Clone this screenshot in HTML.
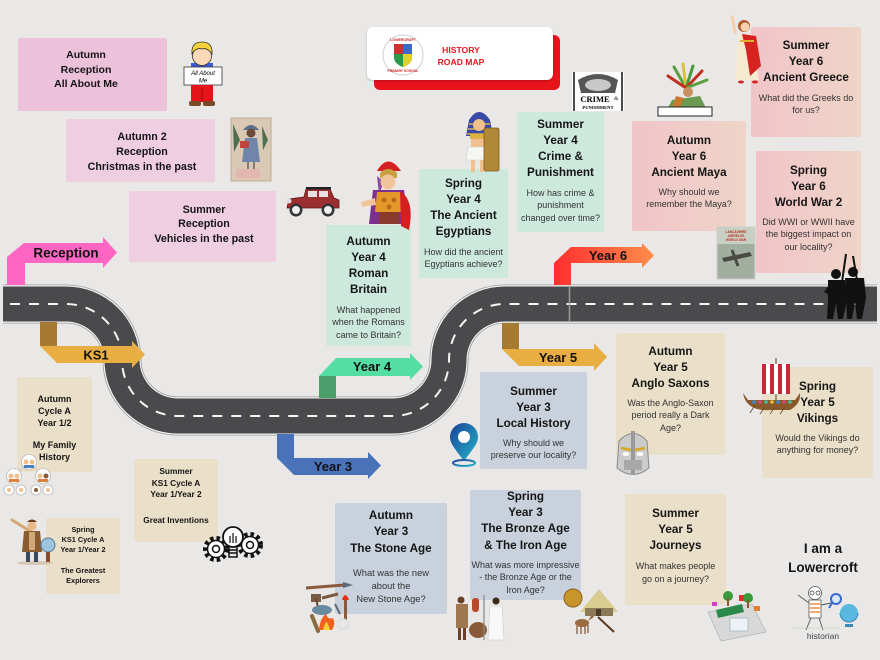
<!DOCTYPE html>
<html><head><meta charset="utf-8">
<style>
html,body{margin:0;padding:0}
body{width:880px;height:660px;position:relative;overflow:hidden;background:#e9e8e6;font-family:"Liberation Sans",Arial,sans-serif;color:#151515}
.box{position:absolute;text-align:center;box-sizing:border-box;white-space:nowrap;border-radius:2px}
.t{font-weight:bold;font-size:11.7px;line-height:16px}
.q{font-size:9px;line-height:12.5px;color:#333}
.r{font-weight:bold;font-size:10.7px}
.k{font-weight:bold}
.g{background:#cde8dc}
.p6{background:linear-gradient(90deg,#f0c5c9,#efd4c7)}
.bg{background:#c9d1dd}
.be{background:#eadfc8}
svg{position:absolute;left:0;top:0}
</style></head><body>

<!-- road + arrows -->
<svg width="880" height="660" viewBox="0 0 880 660">
<defs>
<linearGradient id="y6" x1="554" y1="0" x2="654" y2="0" gradientUnits="userSpaceOnUse"><stop offset="0" stop-color="#ff2e2e"/><stop offset="1" stop-color="#ff8e4c"/></linearGradient>
</defs>
<g fill="none" stroke-linecap="butt">
<path d="M3 304 H66 A56 56 0 0 1 122 360 A56 56 0 0 0 178 416 H393 A56 56 0 0 0 449 360 A56 56 0 0 1 505 304 H877" stroke="#9a9a9a" stroke-width="39"/>
<path d="M3 304 H66 A56 56 0 0 1 122 360 A56 56 0 0 0 178 416 H393 A56 56 0 0 0 449 360 A56 56 0 0 1 505 304 H877" stroke="#f3f3f3" stroke-width="37.4"/>
<path d="M3 304 H66 A56 56 0 0 1 122 360 A56 56 0 0 0 178 416 H393 A56 56 0 0 0 449 360 A56 56 0 0 1 505 304 H877" stroke="#4a4a4c" stroke-width="35"/>
<path d="M10 304 H66 A56 56 0 0 1 122 360 A56 56 0 0 0 178 416 H393 A56 56 0 0 0 449 360 A56 56 0 0 1 505 304 H870" stroke="#f5f5f5" stroke-width="2" stroke-dasharray="10 9"/>
</g>
<line x1="569.5" y1="286" x2="569.5" y2="322" stroke="#9a9a9a" stroke-width="1.5"/>

<!-- Reception -->
<polygon points="7,285 7,257 24,243 103,243 103,237 117,252.5 103,268 103,263 25,263 25,285" fill="#ff66c4"/>
<text x="66" y="257.5" font-size="13.5" font-weight="bold" text-anchor="middle" fill="#111">Reception</text>
<!-- KS1 -->
<rect x="40" y="322" width="17" height="24" fill="#a67a30"/>
<polygon points="40,346 132,346 132,341 145,354.5 132,368 132,363 57,363" fill="#e9ae42"/>
<text x="96" y="359.5" font-size="13" font-weight="bold" text-anchor="middle" fill="#111">KS1</text>
<!-- Year 4 -->
<rect x="319" y="376" width="17" height="22" fill="#4c9e6b"/>
<polygon points="319,376 336,358 410,358 410,353 423,366.5 410,380 410,376" fill="#54dea4"/>
<text x="372" y="371" font-size="13" font-weight="bold" text-anchor="middle" fill="#111">Year 4</text>
<!-- Year 3 -->
<rect x="277" y="434" width="17" height="24" fill="#4a72b8"/>
<polygon points="277,458 368,458 368,452 381,465.5 368,479 368,475 294,475" fill="#4a72b8"/>
<text x="333" y="471" font-size="13" font-weight="bold" text-anchor="middle" fill="#111">Year 3</text>
<!-- Year 5 -->
<rect x="502" y="323" width="17" height="26" fill="#a67a30"/>
<polygon points="502,349 594,349 594,343 607,357 594,371 594,366 519,366" fill="#e9ae42"/>
<text x="558" y="362" font-size="13" font-weight="bold" text-anchor="middle" fill="#111">Year 5</text>
<!-- Year 6 -->
<polygon points="554,285 554,263 571,247 642,247 642,243 654,255.5 642,268 642,263 571,263 571,285" fill="url(#y6)"/>
<text x="608" y="260" font-size="13" font-weight="bold" text-anchor="middle" fill="#111">Year 6</text>
</svg>

<!-- header -->
<div style="position:absolute;left:374px;top:35px;width:186px;height:55px;background:#e8141c;border-radius:6px"></div>
<div style="position:absolute;left:367px;top:27px;width:186px;height:53px;background:#fff;border-radius:6px;box-shadow:0 1px 2px rgba(0,0,0,.2)"></div>
<div style="position:absolute;left:420px;top:44px;width:82px;text-align:center;color:#e8141c;font-weight:bold;font-size:8.6px;line-height:12px">HISTORY<br>ROAD MAP</div>

<!-- Reception boxes -->
<div class="box r" style="left:18px;top:38px;width:149px;height:73px;background:#ecc1da;padding:10px 13px 0 0;line-height:14.5px;font-size:10.5px">Autumn<br>Reception<br>All About Me</div>
<div class="box r" style="left:66px;top:119px;width:149px;height:63px;background:#efcee2;padding-top:10.5px;padding-left:3px;line-height:15px">Autumn 2<br>Reception<br>Christmas in the past</div>
<div class="box r" style="left:129px;top:191px;width:147px;height:71px;background:#efcee2;padding-top:11.75px;padding-left:3px;line-height:14.5px">Summer<br>Reception<br>Vehicles in the past</div>

<!-- Year 4 -->
<div class="box g" style="left:326px;top:225px;width:85px;height:121px;padding-top:9px"><div class="t">Autumn<br>Year 4<br>Roman<br>Britain</div><div class="q" style="margin-top:5.75px">What happened<br>when the Romans<br>came to Britain?</div></div>
<div class="box g" style="left:419px;top:169px;width:89px;height:109px;padding-top:7px"><div class="t">Spring<br>Year 4<br>The Ancient<br>Egyptians</div><div class="q" style="margin-top:5.75px">How did the ancient<br>Egyptians achieve?</div></div>
<div class="box g" style="left:517px;top:112px;width:87px;height:120px;padding-top:5px"><div class="t">Summer<br>Year 4<br>Crime &amp;<br>Punishment</div><div class="q" style="margin-top:5.75px">How has crime &amp;<br>punishment<br>changed over time?</div></div>

<!-- Year 6 -->
<div class="box p6" style="left:632px;top:121px;width:114px;height:110px;padding-top:12px"><div class="t">Autumn<br>Year 6<br>Ancient Maya</div><div class="q" style="margin-top:4.75px">Why should we<br>remember the Maya?</div></div>
<div class="box p6" style="left:751px;top:27px;width:110px;height:110px;padding-top:11px"><div class="t">Summer<br>Year 6<br>Ancient Greece</div><div class="q" style="margin-top:5.75px">What did the Greeks do<br>for us?</div></div>
<div class="box p6" style="left:756px;top:151px;width:105px;height:122px;padding-top:12px"><div class="t">Spring<br>Year 6<br>World War 2</div><div class="q" style="margin-top:4.75px">Did WWI or WWII have<br>the biggest impact on<br>our locality?</div></div>

<!-- Year 5 / Year 3 -->
<div class="box bg" style="left:480px;top:372px;width:107px;height:97px;padding-top:12px"><div class="t">Summer<br>Year 3<br>Local History</div><div class="q" style="margin-top:4.75px">Why should we<br>preserve our locality?</div></div>
<div class="box be" style="left:616px;top:333px;width:109px;height:122px;padding-top:11px"><div class="t">Autumn<br>Year 5<br>Anglo Saxons</div><div class="q" style="margin-top:4.75px">Was the Anglo-Saxon<br>period really a Dark<br>Age?</div></div>
<div class="box be" style="left:762px;top:367px;width:111px;height:111px;padding-top:12px"><div class="t">Spring<br>Year 5<br>Vikings</div><div class="q" style="margin-top:4.75px">Would the Vikings do<br>anything for money?</div></div>
<div class="box bg" style="left:335px;top:503px;width:112px;height:111px;padding-top:4.75px"><div class="t" style="line-height:16.5px">Autumn<br>Year 3<br>The Stone Age</div><div class="q" style="margin-top:9.25px;line-height:13px;font-size:9.3px">What was the new<br>about the<br>New Stone Age?</div></div>
<div class="box bg" style="left:470px;top:490px;width:111px;height:110px;padding-top:0"><div class="t" style="margin-top:-1.15px;line-height:16.3px">Spring<br>Year 3<br>The Bronze Age<br>&amp; The Iron Age</div><div class="q" style="margin-top:4.7px">What was more impressive<br>- the Bronze Age or the<br>Iron Age?</div></div>
<div class="box be" style="left:625px;top:494px;width:101px;height:111px;padding-top:12px"><div class="t">Summer<br>Year 5<br>Journeys</div><div class="q" style="margin-top:5.5px;line-height:13px">What makes people<br>go on a journey?</div></div>

<!-- KS1 -->
<div class="box be k" style="left:17px;top:377px;width:75px;height:95px;padding-top:16px;font-size:9px;line-height:12px">Autumn<br>Cycle A<br>Year 1/2<div style="margin-top:10px">My Family<br>History</div></div>
<div class="box be k" style="left:134px;top:459px;width:84px;height:83px;padding-top:7.25px;font-size:8.3px;line-height:11.5px">Summer<br>KS1 Cycle A<br>Year 1/Year 2<div style="margin-top:14.5px">Great Inventions</div></div>
<div class="box be k" style="left:46px;top:518px;width:74px;height:76px;padding-top:7px;font-size:7.3px;line-height:10px">Spring<br>KS1 Cycle A<br>Year 1/Year 2<div style="margin-top:11px">The Greatest<br>Explorers</div></div>

<div style="position:absolute;left:763px;top:539px;width:120px;text-align:center;font-weight:bold;font-size:13.5px;line-height:19px">I am a<br>Lowercroft</div>
<div style="position:absolute;left:783px;top:631px;width:80px;text-align:center;font-size:8.5px;color:#444">historian</div>

<!-- pictures -->
<svg width="880" height="660" viewBox="0 0 880 660" font-family="Liberation Sans, sans-serif">
<defs>
<linearGradient id="pg" x1="0" y1="0" x2="1" y2="1"><stop offset="0" stop-color="#1c3f9a"/><stop offset="1" stop-color="#22b8c8"/></linearGradient>
</defs>
<!-- logo -->
<circle cx="403" cy="55" r="20" fill="#fff" stroke="#d8d8d8" stroke-width="1.2"/>
<text x="403" y="41" font-size="3.6" fill="#c82020" text-anchor="middle" font-weight="bold">LOWERCROFT</text>
<text x="403" y="72" font-size="3.4" fill="#c82020" text-anchor="middle" font-weight="bold">PRIMARY SCHOOL</text>
<path d="M394 44 H412 V57 Q412 64 403 67 Q394 64 394 57Z" fill="#2a9a4a"/>
<rect x="394" y="44" width="9" height="10" fill="#d03030"/>
<rect x="403" y="44" width="9" height="10" fill="#3a6ac8"/>
<path d="M403 54 H412 V57 Q412 64 403 67Z" fill="#e8d020"/>
<!-- boy -->
<rect x="191" y="63" width="22" height="10" fill="#3d5bd8"/>
<circle cx="202" cy="56" r="9.5" fill="#fcd9b6" stroke="#333" stroke-width="0.8"/>
<path d="M192 54 Q191 42 202 42 Q213 42 212 54 Q207 47 202 49 Q196 47 192 54Z" fill="#f6d23c" stroke="#333" stroke-width="0.8"/>
<rect x="184" y="67" width="38" height="18" fill="#fff" stroke="#333" stroke-width="0.8"/>
<text x="203" y="75" font-size="6" text-anchor="middle" font-style="italic">All About</text>
<text x="203" y="82.5" font-size="6" text-anchor="middle" font-style="italic">Me</text>
<rect x="191" y="85" width="22" height="17" fill="#e5141b"/>
<line x1="202" y1="89" x2="202" y2="102" stroke="#900" stroke-width="0.8"/>
<rect x="189" y="101" width="12" height="5" rx="2" fill="#7a4a28"/>
<rect x="203" y="101" width="12" height="5" rx="2" fill="#7a4a28"/>
<!-- christmas card -->
<rect x="231" y="118" width="40" height="63" fill="#d8c8b4" stroke="#c0ad95"/>
<path d="M233 124 L240 140 L234 152Z" fill="#4a7050"/>
<path d="M262 126 L268 140 L263 150Z" fill="#4a7050"/>
<path d="M243 130 Q251 120 259 130 Z" fill="#5a6e90"/>
<circle cx="251" cy="133" r="4.5" fill="#6b4a38"/>
<path d="M245 138 L257 138 L260 162 L242 162Z" fill="#6f86aa"/>
<rect x="240" y="141" width="9" height="7" fill="#c0453a"/>
<line x1="248" y1="162" x2="248" y2="169" stroke="#333"/>
<line x1="254" y1="162" x2="254" y2="169" stroke="#333"/>
<rect x="236" y="169" width="24" height="9" fill="#e2b7b0"/>
<!-- car -->
<path d="M287 208 L289 199 L304 197 L306 189 L330 189 L334 198 L339 200 L339 208Z" fill="#9b2f30" stroke="#5a1a1a" stroke-width="0.8"/>
<rect x="308" y="191" width="9" height="6" fill="#e8e0e0"/>
<rect x="319" y="191" width="9" height="6" fill="#e8e0e0"/>
<rect x="306" y="187" width="25" height="2.5" fill="#222"/>
<circle cx="296" cy="210" r="6.5" fill="#333"/><circle cx="296" cy="210" r="4" fill="#eee"/>
<circle cx="328" cy="210" r="6.5" fill="#333"/><circle cx="328" cy="210" r="4" fill="#eee"/>
<circle cx="289" cy="201" r="2.5" fill="#ddd"/>
<!-- roman -->
<path d="M377 171 Q388 152 401 171 Z" fill="#d42020"/>
<path d="M380 173 Q388 165 397 173 L397 178 L380 178Z" fill="#c8a040"/>
<path d="M377 176 L379 194 L384 182Z" fill="#8a4aa0"/>
<circle cx="388" cy="182" r="7.5" fill="#f2c49c"/>
<path d="M373 190 L404 190 L409 224 L369 224Z" fill="#7d2f8f"/>
<path d="M377 192 L401 192 L403 212 L375 212Z" fill="#e4982a"/>
<circle cx="384" cy="200" r="2.5" fill="#b86a18"/><circle cx="394" cy="200" r="2.5" fill="#b86a18"/><circle cx="389" cy="207" r="2.5" fill="#b86a18"/>
<path d="M400 191 Q415 200 409 230 L401 226Z" fill="#d42020"/>
<path d="M375 198 L361 202 L362 207 L376 205Z" fill="#f2c49c"/>
<rect x="379" y="212" width="20" height="12" fill="#8a3a2a"/>
<!-- pharaoh -->
<path d="M469 120 Q479 104 490 120 L493 136 L466 136Z" fill="#3a4aa8"/>
<path d="M469 124 H490 M468 129 H491 M467 134 H492" stroke="#e0b040" stroke-width="1.5"/>
<circle cx="479" cy="125" r="6" fill="#f2c08a"/>
<rect x="470" y="134" width="18" height="5" fill="#e0b040"/>
<rect x="471" y="139" width="16" height="9" fill="#f0c090"/>
<path d="M468 147 L490 147 L492 160 L466 160Z" fill="#f6f6f2" stroke="#ccc" stroke-width="0.6"/>
<rect x="471" y="160" width="4" height="12" fill="#f0c090"/>
<rect x="480" y="160" width="4" height="12" fill="#f0c090"/>
<rect x="484" y="128" width="15" height="43" rx="2" fill="#b08838" stroke="#7a5a20" stroke-width="0.8"/>
<!-- crime sign -->
<rect x="572" y="72" width="52" height="39" fill="#fff"/>
<path d="M574 72 V111 M622 72 V111" stroke="#111" stroke-width="1.5"/>
<path d="M578 80 Q598 68 618 80 L615 93 L581 93Z" fill="#555"/>
<ellipse cx="598" cy="85" rx="13" ry="6" fill="#c8c8c8"/>
<text x="595" y="102" font-size="8.5" font-weight="bold" font-family="Liberation Serif, serif" text-anchor="middle">CRIME</text>
<text x="614" y="100" font-size="5.5" font-family="Liberation Serif, serif">&amp;</text>
<text x="598" y="109" font-size="4.6" font-weight="bold" font-family="Liberation Serif, serif" text-anchor="middle">PUNISHMENT</text>
<!-- maya -->
<g stroke-width="3" stroke-linecap="round">
<line x1="686" y1="88" x2="674" y2="67" stroke="#5aa040"/>
<line x1="686" y1="88" x2="683" y2="64" stroke="#d8c040"/>
<line x1="686" y1="88" x2="693" y2="66" stroke="#4a9a40"/>
<line x1="686" y1="88" x2="702" y2="71" stroke="#c03020"/>
<line x1="686" y1="88" x2="707" y2="80" stroke="#5aa040"/>
<line x1="686" y1="88" x2="668" y2="76" stroke="#c03020"/>
</g>
<circle cx="688" cy="92" r="5" fill="#c89060"/>
<path d="M672 100 L700 96 L706 108 L668 108Z" fill="#6a9a50"/>
<path d="M676 96 L684 98 L680 108 L672 108Z" fill="#c87a30"/>
<rect x="658" y="107" width="54" height="9" fill="#fff" stroke="#222"/>
<!-- greek lady -->
<line x1="735" y1="32" x2="732" y2="17" stroke="#f4d0b0" stroke-width="3" stroke-linecap="round"/>
<circle cx="744" cy="26" r="6" fill="#b05a2a"/>
<circle cx="745" cy="27" r="4.5" fill="#f6d2b0"/>
<path d="M738 34 L752 34 L759 80 L736 80Z" fill="#f5ead0"/>
<path d="M742 34 L756 36 L761 66 L750 76 L746 50Z" fill="#d6231f"/>
<rect x="740" y="40" width="14" height="2" fill="#e0b030"/>
<ellipse cx="741" cy="82" rx="3" ry="1.5" fill="#d6231f"/><ellipse cx="755" cy="82" rx="3" ry="1.5" fill="#d6231f"/>
<!-- ww2 book -->
<rect x="717" y="227" width="38" height="52" fill="#a2ae9f" stroke="#d0d0d0"/>
<rect x="717" y="227" width="38" height="17" fill="#c8d0c4"/>
<text x="736" y="233" font-size="3.2" fill="#c03020" text-anchor="middle" font-weight="bold">LANCASHIRE</text>
<text x="736" y="237" font-size="3.2" fill="#c03020" text-anchor="middle" font-weight="bold">AIRFIELDS</text>
<text x="736" y="241" font-size="3.2" fill="#c03020" text-anchor="middle" font-weight="bold">WORLD WAR</text>
<path d="M722 258 L750 252 L752 256 L724 262Z" fill="#4a4a44"/>
<path d="M732 250 L738 266" stroke="#4a4a44" stroke-width="3"/>
<!-- soldiers -->
<g fill="#111">
<circle cx="836" cy="274" r="5"/>
<path d="M828 280 L845 280 L847 300 L843 319 L838 319 L836 304 L833 319 L827 319 L828 300Z"/>
<circle cx="853" cy="272" r="5"/>
<path d="M845 278 L864 278 L866 298 L862 319 L857 319 L855 302 L852 319 L847 319 L846 298Z"/>
<path d="M824 292 L830 284 L831 296Z"/>
</g>
<line x1="842" y1="282" x2="846" y2="254" stroke="#111" stroke-width="2"/>
<line x1="857" y1="280" x2="853" y2="256" stroke="#111" stroke-width="2"/>
<!-- pin -->
<path d="M464 461 C456 450 450 444 450 437 A14 14 0 0 1 478 437 C478 444 472 450 464 461Z" fill="url(#pg)"/>
<circle cx="464" cy="437" r="6" fill="#fff"/>
<ellipse cx="464" cy="463" rx="11" ry="3" fill="none" stroke="url(#pg)" stroke-width="2"/>
<!-- helmet -->
<path d="M619 441 Q633 426 647 441 L649 468 Q633 481 617 468Z" fill="#cbcbcb" stroke="#8a8a8a"/>
<rect x="631" y="431" width="4" height="44" fill="#9a9a9a"/>
<path d="M621 448 L631 450 M635 450 L645 448" stroke="#d8a820" stroke-width="2.5"/>
<ellipse cx="626" cy="454" rx="3.5" ry="2" fill="#fff"/>
<ellipse cx="640" cy="454" rx="3.5" ry="2" fill="#fff"/>
<rect x="624" y="460" width="18" height="10" fill="#a8a8a8"/>
<!-- viking ship -->
<line x1="776" y1="358" x2="776" y2="404" stroke="#7a5a3a" stroke-width="1.2"/>
<rect x="762" y="364" width="28" height="30" fill="#fff"/>
<g fill="#c8283a"><rect x="762" y="364" width="4" height="30"/><rect x="770" y="364" width="4" height="30"/><rect x="778" y="364" width="4" height="30"/><rect x="786" y="364" width="4" height="30"/></g>
<path d="M743 393 Q746 412 772 410 L790 410 Q801 404 800 393 L795 400 L748 400Z" fill="#8a5a2c"/>
<g stroke="#6a4420" stroke-width="0.8"><line x1="755" y1="405" x2="750" y2="413"/><line x1="765" y1="407" x2="760" y2="414"/><line x1="775" y1="407" x2="770" y2="414"/><line x1="785" y1="407" x2="780" y2="414"/></g>
<g><circle cx="754" cy="402" r="1.8" fill="#3a8ad0"/><circle cx="760" cy="402" r="1.8" fill="#e04080"/><circle cx="766" cy="402" r="1.8" fill="#40c0a0"/><circle cx="772" cy="402" r="1.8" fill="#e0c030"/><circle cx="778" cy="402" r="1.8" fill="#3a8ad0"/><circle cx="784" cy="402" r="1.8" fill="#e04080"/><circle cx="790" cy="402" r="1.8" fill="#40c0a0"/></g>
<!-- family tree -->
<g stroke="#bbb" stroke-width="0.8" fill="#fff">
<line x1="29" y1="462" x2="14" y2="476"/><line x1="29" y1="462" x2="43" y2="476"/>
<circle cx="29" cy="462" r="7.5"/><circle cx="14" cy="476" r="7.5"/><circle cx="43" cy="476" r="7.5"/>
<circle cx="9" cy="490" r="5"/><circle cx="21" cy="490" r="5"/><circle cx="36" cy="490" r="5"/><circle cx="48" cy="490" r="5"/>
</g>
<g fill="#f0c090"><circle cx="26" cy="462" r="2.5"/><circle cx="32" cy="462" r="2.5"/><circle cx="11" cy="476" r="2.5"/><circle cx="17" cy="476" r="2.5"/><circle cx="40" cy="476" r="2.5"/><circle cx="46" cy="476" r="2.5" fill="#8a5a3a"/><circle cx="9" cy="490" r="2"/><circle cx="21" cy="490" r="2"/><circle cx="36" cy="490" r="2" fill="#8a5a3a"/><circle cx="48" cy="490" r="2"/></g>
<g fill="#e08040"><rect x="9" y="479" width="10" height="3"/><rect x="38" y="479" width="10" height="3"/><rect x="24" y="465" width="10" height="3" fill="#4a80c0"/></g>
<!-- explorer -->
<ellipse cx="35" cy="563" rx="18" ry="2" fill="#d6c6b4"/>
<line x1="30" y1="531" x2="12" y2="520" stroke="#d4a870" stroke-width="3" stroke-linecap="round"/>
<circle cx="32" cy="526" r="4.5" fill="#e8b888"/>
<path d="M27 522 Q32 517 37 522Z" fill="#6a4020"/>
<path d="M24 531 L40 531 L42 552 L22 552Z" fill="#8a5a30"/>
<rect x="29" y="532" width="6" height="18" fill="#d0a878"/>
<rect x="26" y="552" width="4" height="10" fill="#3a4a5a"/><rect x="34" y="552" width="4" height="10" fill="#3a4a5a"/>
<circle cx="48" cy="545" r="7" fill="#9cc4e0" stroke="#5a7a9a"/>
<rect x="46" y="552" width="4" height="10" fill="#8a4a2a"/>
<!-- gears and bulb -->
<g fill="none" stroke="#111">
<circle cx="216" cy="549" r="11" stroke-width="4" stroke-dasharray="3.5 3"/>
<circle cx="216" cy="549" r="8.5" stroke-width="1.5" fill="#fff"/>
<circle cx="216" cy="549" r="3.5" stroke-width="1.5"/>
<circle cx="250" cy="545" r="11" stroke-width="4" stroke-dasharray="3.5 3"/>
<circle cx="250" cy="545" r="8.5" stroke-width="1.5" fill="#fff"/>
<circle cx="250" cy="545" r="3.5" stroke-width="1.5"/>
<circle cx="233" cy="537" r="10" stroke-width="1.8" fill="#fff"/>
<path d="M229 546 V557 H237 V546 M229 550 H237 M229 553 H237" stroke-width="1.5"/>
<path d="M230 543 V536 M233 543 V533 M236 543 V536" stroke-width="1.2"/>
</g>
<!-- stone age tools -->
<line x1="306" y1="588" x2="344" y2="585" stroke="#8a5a3a" stroke-width="3"/>
<path d="M343 582 L353 585 L343 588Z" fill="#5a6a7a"/>
<rect x="311" y="594" width="10" height="8" fill="#7a5a40"/>
<line x1="316" y1="598" x2="318" y2="608" stroke="#6a4a30" stroke-width="2"/>
<line x1="322" y1="598" x2="338" y2="594" stroke="#7a5a40" stroke-width="3"/>
<ellipse cx="322" cy="610" rx="10" ry="5" fill="#6a8aa0"/>
<line x1="312" y1="616" x2="318" y2="631" stroke="#8a6a40" stroke-width="4" stroke-linecap="round"/>
<path d="M319 630 Q320 618 326 614 Q328 620 333 618 Q336 624 332 630Z" fill="#f06020"/>
<path d="M323 630 Q325 622 327 622 Q329 626 330 630Z" fill="#f8d030"/>
<rect x="344" y="600" width="3" height="20" fill="#8a5a3a"/>
<path d="M342 600 Q345 590 349 600Z" fill="#e03010"/>
<circle cx="343" cy="624" r="5" fill="none" stroke="#ddd" stroke-width="1.5"/>
<line x1="335" y1="604" x2="340" y2="614" stroke="#5a6a7a" stroke-width="2"/>
<!-- bronze age people -->
<circle cx="461" cy="600" r="3.5" fill="#6a4028"/>
<rect x="456" y="604" width="12" height="24" fill="#a07850"/>
<rect x="458" y="628" width="3" height="12" fill="#6a4028"/><rect x="463" y="628" width="3" height="12" fill="#6a4028"/>
<rect x="472" y="598" width="7" height="14" rx="3" fill="#b84a2a"/>
<ellipse cx="478" cy="630" rx="9" ry="8" fill="#8a5a38"/>
<line x1="484" y1="595" x2="484" y2="640" stroke="#888" stroke-width="1.2"/>
<circle cx="496" cy="601" r="3.5" fill="#3a2a1a"/>
<path d="M490 606 L502 606 L504 640 L488 640Z" fill="#f8f8f8" stroke="#ccc" stroke-width="0.6"/>
<!-- shield / hut / deer -->
<circle cx="573" cy="598" r="9" fill="#c8952a" stroke="#8a6018"/>
<polygon points="580,612 599,589 618,612" fill="#d8cc90"/>
<rect x="585" y="608" width="28" height="8" fill="#8a7a58"/>
<rect x="596" y="609" width="5" height="7" fill="#4a3a28"/>
<ellipse cx="582" cy="623" rx="7" ry="4" fill="#9a6a40"/>
<g stroke="#7a5030" stroke-width="1.2"><line x1="577" y1="626" x2="577" y2="634"/><line x1="581" y1="626" x2="581" y2="634"/><line x1="585" y1="626" x2="585" y2="634"/><line x1="588" y1="625" x2="588" y2="633"/></g>
<path d="M588 621 L592 614 L594 617Z" fill="#9a6a40"/>
<line x1="598" y1="617" x2="614" y2="632" stroke="#5a3a20" stroke-width="2"/>
<!-- travel -->
<polygon points="708,612 752,604 766,632 721,641" fill="#d8d8d8" stroke="#aaa" stroke-width="0.6"/>
<rect x="730" y="618" width="18" height="13" fill="#eef2f8" stroke="#8aa" stroke-width="0.6"/>
<path d="M716 610 L742 604 L744 612 L718 618Z" fill="#2a8a4a"/>
<circle cx="728" cy="596" r="5" fill="#3a9a3a"/><circle cx="748" cy="598" r="5" fill="#3a9a3a"/>
<rect x="727" y="598" width="2" height="8" fill="#8a5a2a"/><rect x="747" y="600" width="2" height="8" fill="#8a5a2a"/>
<rect x="739" y="595" width="5" height="6" fill="#e03030"/><rect x="754" y="606" width="6" height="5" fill="#e08030"/><rect x="712" y="602" width="5" height="4" fill="#d040c0"/>
<!-- historian -->
<circle cx="815" cy="593" r="6.5" fill="#fff" stroke="#555" stroke-width="0.8"/>
<circle cx="812" cy="593" r="2" fill="none" stroke="#333" stroke-width="0.7"/><circle cx="818" cy="593" r="2" fill="none" stroke="#333" stroke-width="0.7"/>
<rect x="809" y="600" width="12" height="18" fill="#fff" stroke="#555" stroke-width="0.8"/>
<g stroke="#f08a40" stroke-width="1.5"><line x1="810" y1="604" x2="820" y2="604"/><line x1="810" y1="608" x2="820" y2="608"/><line x1="810" y1="612" x2="820" y2="612"/></g>
<g stroke="#555" stroke-width="0.9"><line x1="811" y1="618" x2="806" y2="630"/><line x1="819" y1="618" x2="823" y2="630"/><line x1="809" y1="603" x2="798" y2="595"/><line x1="821" y1="605" x2="831" y2="603"/></g>
<circle cx="836" cy="599" r="5" fill="#d8e8f8" stroke="#3a6ad0" stroke-width="2"/>
<line x1="832" y1="603" x2="829" y2="608" stroke="#3a6ad0" stroke-width="2"/>
<circle cx="849" cy="613" r="9" fill="#5ab8e0"/>
<path d="M840 613 A9 9 0 0 0 858 613" fill="none" stroke="#3a8aba" stroke-width="1"/>
<rect x="845" y="624" width="8" height="3" fill="#3a8aba"/>
<line x1="793" y1="628" x2="840" y2="628" stroke="#ccc" stroke-width="0.8"/>
</svg>
</body></html>
